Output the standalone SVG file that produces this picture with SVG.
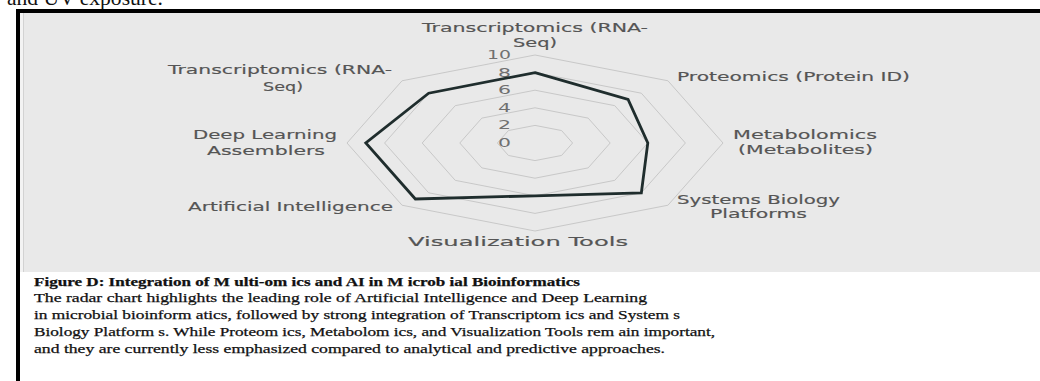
<svg xmlns="http://www.w3.org/2000/svg" width="1040" height="381" viewBox="0 0 1040 381">
  <style>
    .lbl { font-family: "DejaVu Sans", "Liberation Sans", sans-serif; font-size: 11.5px; fill: #555; stroke: #555; stroke-width: 0.15; }
    .tick { font-family: "DejaVu Sans", "Liberation Sans", sans-serif; font-size: 11.5px; fill: #707070; text-anchor: end; }
    .cap { font-family: "Liberation Serif", "Times New Roman", serif; font-size: 12.5px; fill: #111; stroke: #111; stroke-width: 0.25; }
    .grid { fill: none; stroke: #c8c8c8; stroke-width: 1; vector-effect: non-scaling-stroke; }
    .data { fill: none; stroke: #1f2d2d; stroke-width: 2.8; stroke-linejoin: miter; vector-effect: non-scaling-stroke; }
  </style>
  <rect x="0" y="0" width="1040" height="381" fill="#ffffff"/>
  <text x="7" y="5" font-family="Liberation Serif, serif" font-size="22" fill="#111" textLength="156" lengthAdjust="spacingAndGlyphs">and UV exposure.</text>

  <g id="frame">
    <rect x="20" y="13" width="1020" height="259" fill="#e9e9e9"/>
    <rect x="20" y="13" width="3" height="259" fill="#f3f3f3"/>
    <line x1="23.5" y1="13" x2="23.5" y2="272" stroke="#d2d2d2" stroke-width="1"/>
    <rect x="16" y="9" width="1024" height="4" fill="#000"/>
    <rect x="16" y="9" width="4" height="372" fill="#000"/>
  </g>

  <g id="grid" transform="translate(535,143) scale(18.8,8.8)">
    <polygon class="grid" points="0,-2 1.414,-1.414 2,0 1.414,1.414 0,2 -1.414,1.414 -2,0 -1.414,-1.414"/>
    <polygon class="grid" points="0,-4 2.828,-2.828 4,0 2.828,2.828 0,4 -2.828,2.828 -4,0 -2.828,-2.828"/>
    <polygon class="grid" points="0,-6 4.243,-4.243 6,0 4.243,4.243 0,6 -4.243,4.243 -6,0 -4.243,-4.243"/>
    <polygon class="grid" points="0,-8 5.657,-5.657 8,0 5.657,5.657 0,8 -5.657,5.657 -8,0 -5.657,-5.657"/>
    <polygon class="grid" points="0,-10 7.071,-7.071 10,0 7.071,7.071 0,10 -7.071,7.071 -10,0 -7.071,-7.071"/>
  </g>

  <g id="ticks">
    <text class="tick" x="511" y="59" textLength="24" lengthAdjust="spacingAndGlyphs">10</text>
    <text class="tick" x="511" y="76.6" textLength="13" lengthAdjust="spacingAndGlyphs">8</text>
    <text class="tick" x="511" y="94.2" textLength="13" lengthAdjust="spacingAndGlyphs">6</text>
    <text class="tick" x="511" y="111.8" textLength="13" lengthAdjust="spacingAndGlyphs">4</text>
    <text class="tick" x="511" y="129.4" textLength="13" lengthAdjust="spacingAndGlyphs">2</text>
    <text class="tick" x="511" y="147" textLength="13" lengthAdjust="spacingAndGlyphs">0</text>
  </g>

  <g id="series" transform="translate(535,143) scale(18.8,8.8)">
    <polygon class="data" points="0,-8 4.950,-4.950 6,0 5.657,5.657 0,6 -6.364,6.364 -9,0 -5.657,-5.657"/>
  </g>

  <g id="axis-top">
    <text class="lbl" x="422" y="32" textLength="226" lengthAdjust="spacingAndGlyphs">Transcriptomics (RNA-</text>
    <text class="lbl" x="513" y="47" textLength="44" lengthAdjust="spacingAndGlyphs">Seq)</text>
  </g>
  <g id="axis-proteomics">
    <text class="lbl" x="677" y="81" textLength="233" lengthAdjust="spacingAndGlyphs">Proteomics (Protein ID)</text>
  </g>
  <g id="axis-metabolomics">
    <text class="lbl" x="733" y="139" textLength="144" lengthAdjust="spacingAndGlyphs">Metabolomics</text>
    <text class="lbl" x="738" y="154" textLength="135" lengthAdjust="spacingAndGlyphs">(Metabolites)</text>
  </g>
  <g id="axis-systems">
    <text class="lbl" x="677" y="204" textLength="163" lengthAdjust="spacingAndGlyphs">Systems Biology</text>
    <text class="lbl" x="710" y="218" textLength="97" lengthAdjust="spacingAndGlyphs">Platforms</text>
  </g>
  <g id="axis-visualization">
    <text class="lbl" x="408" y="246" textLength="220" lengthAdjust="spacingAndGlyphs">Visualization Tools</text>
  </g>
  <g id="axis-ai">
    <text class="lbl" x="188" y="211" textLength="205" lengthAdjust="spacingAndGlyphs">Artificial Intelligence</text>
  </g>
  <g id="axis-deeplearning">
    <text class="lbl" x="193" y="139" textLength="144" lengthAdjust="spacingAndGlyphs">Deep Learning</text>
    <text class="lbl" x="207" y="155" textLength="118" lengthAdjust="spacingAndGlyphs">Assemblers</text>
  </g>
  <g id="axis-transcriptomics-left">
    <text class="lbl" x="168" y="74" textLength="224" lengthAdjust="spacingAndGlyphs">Transcriptomics (RNA-</text>
    <text class="lbl" x="263" y="91" textLength="40" lengthAdjust="spacingAndGlyphs">Seq)</text>
  </g>

  <g id="caption">
    <text class="cap" x="34" y="286" font-weight="bold" textLength="546" lengthAdjust="spacingAndGlyphs">Figure D: Integration of M ulti-om ics and AI in M icrob ial Bioinformatics</text>
    <text class="cap" x="34" y="302" textLength="613" lengthAdjust="spacingAndGlyphs">The radar chart highlights the leading role of Artificial Intelligence and Deep Learning</text>
    <text class="cap" x="34" y="319" textLength="646" lengthAdjust="spacingAndGlyphs">in microbial bioinform atics, followed by strong integration of Transcriptom ics and System s</text>
    <text class="cap" x="34" y="336" textLength="681" lengthAdjust="spacingAndGlyphs">Biology Platform s. While Proteom ics, Metabolom ics, and Visualization Tools rem ain important,</text>
    <text class="cap" x="34" y="353" textLength="631" lengthAdjust="spacingAndGlyphs">and they are currently less emphasized compared to analytical and predictive approaches.</text>
  </g>
</svg>
